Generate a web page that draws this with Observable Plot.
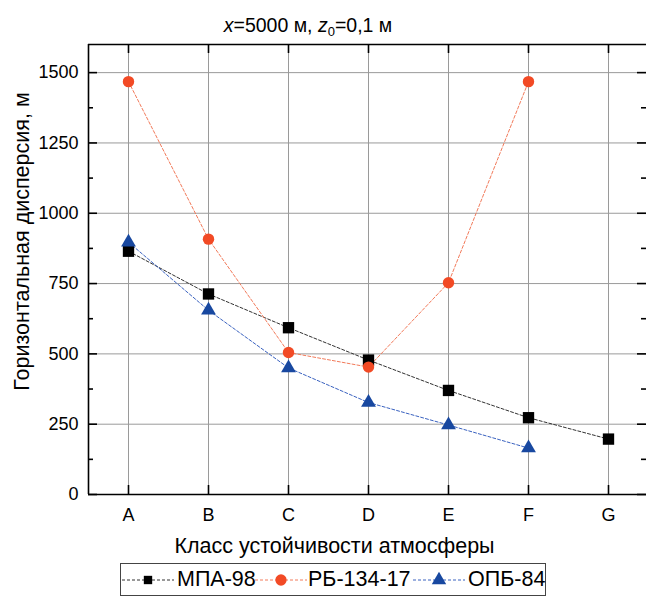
<!DOCTYPE html>
<html>
<head>
<meta charset="utf-8">
<script src="https://cdn.jsdelivr.net/npm/d3@7"></script>
<script src="https://cdn.jsdelivr.net/npm/@observablehq/plot@0.6"></script>
<style>
  html, body { margin: 0; padding: 0; background: #fff; }
  body { font-family: "Liberation Sans", Arial, sans-serif; }
  #wrap { position: relative; width: 646px; height: 597px; overflow: hidden; }
  #chart { position: absolute; left: 0; top: 0; }
  #title { position: absolute; left: 0; width: 616px; top: 14px; text-align: center; font-size: 19.5px; color: #000; }
  #title sub { font-size: 13px; vertical-align: -4px; line-height: 0; }
  #legend { position: absolute; left: 120px; top: 563px; width: 426px; height: 33px; border: 1px solid #444; box-sizing: border-box; }
  .item { position: absolute; top: 0; height: 31px; }
  .item svg { position: absolute; top: 6px; }
  .item span { position: absolute; top: 3px; font-size: 21.5px; white-space: nowrap; color: #000; }
</style>
</head>
<body>
<div id="wrap">
  <div id="chart"></div>
  <div id="title"><i>x</i>=5000 м, <i>z</i><sub>0</sub>=0,1 м</div>
  <div id="legend"></div>
</div>
<script>
const categories = ["A", "B", "C", "D", "E", "F", "G"];
const seriesNames = ["МПА-98", "РБ-134-17", "ОПБ-84"];
const mpa98 = [865, 713, 593, 478, 370, 273, 197];
const rb13417 = [1468, 908, 505, 453, 753, 1468];
const opb84 = [897, 655, 450, 327, 247, 165];
const yTicks = [0, 250, 500, 750, 1000, 1250, 1500];
const yMinorTicks = [125, 375, 625, 875, 1125, 1375];
const xTitle = "Класс устойчивости атмосферы";
const yTitle = "Горизонтальная дисперсия, м";

const colors = {"МПА-98": "#000000", "РБ-134-17": "#f24a25", "ОПБ-84": "#1848a0"};
const lineColors = {"МПА-98": "#333333", "РБ-134-17": "#f27a5a", "ОПБ-84": "#3a62c0"};
const symbols = {"МПА-98": "square", "РБ-134-17": "circle", "ОПБ-84": "triangle"};
const radii = {"МПА-98": 6.4, "РБ-134-17": 5.7, "ОПБ-84": 5.5};

const allSeries = [mpa98, rb13417, opb84];
const rows = [];
allSeries.forEach((vals, s) => vals.forEach((v, i) => rows.push({series: seriesNames[s], x: i + 1, y: v})));
const xIdx = categories.map((c, i) => i + 1);

const W = 646, H = 597, mL = 88, mT = 44, mB = 103, mR = 0;
const fw = W - mL - mR, fh = H - mT - mB;

const marks = [
  Plot.gridX(xIdx, {stroke: "#9a9a9a", strokeOpacity: 1, strokeWidth: 1}),
  Plot.gridY(yTicks.filter(d => d > 0), {stroke: "#9a9a9a", strokeOpacity: 1, strokeWidth: 1}),
];
for (const s of seriesNames) {
  const d = rows.filter(r => r.series === s);
  marks.push(Plot.line(d, {x: "x", y: "y", stroke: lineColors[s], strokeWidth: 1, strokeDasharray: "3,2"}));
}
for (const s of seriesNames) {
  const d = rows.filter(r => r.series === s);
  marks.push(Plot.dot(d, {x: "x", y: "y", symbol: symbols[s], fill: colors[s], stroke: "none", r: radii[s]}));
}
marks.push(
  Plot.ruleY([0], {stroke: "#000", strokeWidth: 1.6}),
  Plot.ruleY([1600], {stroke: "#000", strokeWidth: 1.6}),
  Plot.ruleX([0.5], {stroke: "#000", strokeWidth: 1.6}),
  Plot.tickY(yTicks, {y: d => d, stroke: "#000", strokeWidth: 1.6, insetRight: fw - 9}),
  Plot.tickY(yMinorTicks, {y: d => d, stroke: "#000", strokeWidth: 1.6, insetRight: fw - 5}),
  Plot.tickY(yTicks, {y: d => d, stroke: "#000", strokeWidth: 1.6, insetLeft: fw - 9}),
  Plot.tickY(yMinorTicks, {y: d => d, stroke: "#000", strokeWidth: 1.6, insetLeft: fw - 5}),
  Plot.tickX(xIdx, {x: d => d, stroke: "#000", strokeWidth: 1.6, insetTop: fh - 9}),
  Plot.tickX(xIdx, {x: d => d, stroke: "#000", strokeWidth: 1.6, insetBottom: fh - 9}),
  Plot.axisX({ticks: xIdx, tickFormat: d => categories[d - 1], tickSize: 0, tickPadding: 14, fontSize: 18, label: null}),
  Plot.axisY({ticks: yTicks, tickFormat: d => String(d), tickSize: 0, tickPadding: 10, fontSize: 18, label: null}),
  Plot.text([xTitle], {frameAnchor: "bottom", textAnchor: "middle", dx: -33, dy: 58, fontSize: 21.5, fill: "#000"}),
  Plot.text([yTitle], {frameAnchor: "left", textAnchor: "middle", rotate: -90, dx: -66, dy: -28, fontSize: 21.5, fill: "#000"})
);

const chart = Plot.plot({
  width: W, height: H,
  marginLeft: mL, marginRight: mR, marginTop: mT, marginBottom: mB,
  style: {fontFamily: "Liberation Sans, Arial, sans-serif", color: "#000", background: "#fff", overflow: "visible"},
  x: {type: "linear", domain: [0.5, 7.5], range: [mL, 648], axis: null},
  y: {domain: [0, 1600], range: [H - mB, mT], axis: null},
  marks
});
document.getElementById("chart").appendChild(chart);

const legend = d3.select("#legend");
const itemPos = [{sx: 1, lx: 56}, {sx: 134, lx: 187}, {sx: 292, lx: 347}];
seriesNames.forEach((s, i) => {
  const it = legend.append("div").attr("class", "item").style("left", itemPos[i].sx + "px");
  const svg = it.append("svg").attr("width", 52).attr("height", 20);
  svg.append("line").attr("x1", 0).attr("x2", 52).attr("y1", 10).attr("y2", 10)
    .attr("stroke", lineColors[s]).attr("stroke-width", 1).attr("stroke-dasharray", "3,2");
  const sym = symbols[s] === "square" ? d3.symbolSquare : symbols[s] === "circle" ? d3.symbolCircle : d3.symbolTriangle;
  const size = s === "МПА-98" ? 70 : s === "РБ-134-17" ? 100 : 90;
  svg.append("path").attr("d", d3.symbol(sym, size)()).attr("transform", "translate(26,10)").attr("fill", colors[s]);
  it.append("span").style("left", (itemPos[i].lx - itemPos[i].sx) + "px").text(s);
});
</script>
</body>
</html>
